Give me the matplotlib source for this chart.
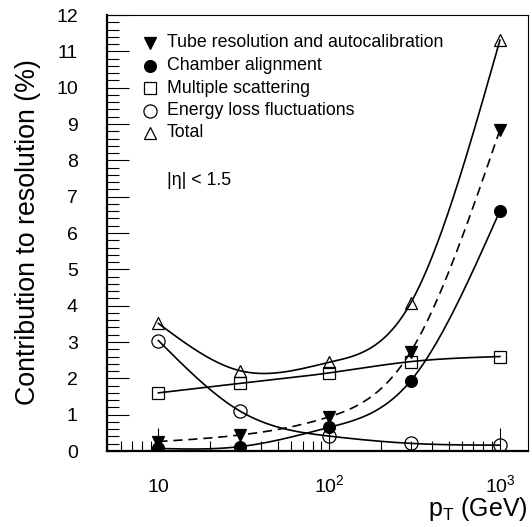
import numpy as np
import matplotlib.pyplot as plt
from matplotlib.ticker import FixedLocator, FixedFormatter, LogLocator, MultipleLocator, NullFormatter

plt.rcParams['font.family'] = ['Liberation Sans', 'DejaVu Sans']
plt.rcParams['mathtext.fontset'] = 'custom'
plt.rcParams['mathtext.rm'] = 'Liberation Sans'
plt.rcParams['mathtext.it'] = 'Liberation Sans:italic'

# values (percent contribution to pT resolution)
pt = [10, 30, 100, 300, 1000]
tube = [0.26, 0.44, 0.94, 2.73, 8.84]
chamber = [0.07, 0.12, 0.65, 1.93, 6.61]
scattering = [1.60, 1.86, 2.15, 2.46, 2.60]
eloss = [3.04, 1.10, 0.41, 0.21, 0.16]
total = [3.51, 2.21, 2.44, 4.07, 11.31]

labels = ['Tube resolution and autocalibration', 'Chamber alignment',
          'Multiple scattering', 'Energy loss fluctuations', 'Total']


def smooth(x, y, n=300):
    # natural cubic spline through the points, in log10(pT)
    u = np.log10(x)
    y = np.asarray(y, float)
    h = np.diff(u)
    m = len(u)
    A = np.zeros((m, m))
    b = np.zeros(m)
    A[0, 0] = A[-1, -1] = 1
    for i in range(1, m - 1):
        A[i, i - 1] = h[i - 1]
        A[i, i] = 2 * (h[i - 1] + h[i])
        A[i, i + 1] = h[i]
        b[i] = 3 * ((y[i + 1] - y[i]) / h[i] - (y[i] - y[i - 1]) / h[i - 1])
    c = np.linalg.solve(A, b)
    uu = np.linspace(u[0], u[-1], n)
    k = np.clip(np.searchsorted(u, uu) - 1, 0, m - 2)
    d = uu - u[k]
    bb = (y[1:] - y[:-1]) / h - h * (2 * c[:-1] + c[1:]) / 3
    dd = (c[1:] - c[:-1]) / (3 * h)
    yy = y[k] + bb[k] * d + c[k] * d ** 2 + dd[k] * d ** 3
    return 10 ** uu, yy


fig = plt.figure(figsize=(5.32, 5.27), dpi=100)
ax = fig.add_axes([107 / 532, 1 - 451 / 527, 421 / 532, 436 / 527])

series = [tube, chamber, scattering, eloss, total]
styles = ['--', '-', '-', '-', '-']
markers = [dict(marker='v', mfc='black', ms=8.5),
           dict(marker='o', mfc='black', ms=8.5),
           dict(marker='s', mfc='none', ms=9),
           dict(marker='o', mfc='none', ms=9.5),
           dict(marker='^', mfc='none', ms=9)]

for s, ls in zip(series, styles):
    xs, ys = smooth(pt, s)
    ax.plot(xs, ys, color='black', lw=1.2, ls=ls, dashes=(5.5, 3.5) if ls == '--' else (None, None))
for s, mk in zip(series, markers):
    ax.plot(pt, s, ls='none', color='black', mec='black', mew=0.9, zorder=5, **mk)

ax.set_xscale('log')
ax.set_xlim(5, 1460)
ax.set_ylim(0, 12)

ax.xaxis.set_major_locator(FixedLocator([10, 100, 1000]))
ax.xaxis.set_major_formatter(FixedFormatter(['10', '$10^{2}$', '$10^{3}$']))
ax.xaxis.set_minor_locator(LogLocator(base=10, subs=np.arange(2, 10)))
ax.xaxis.set_minor_formatter(NullFormatter())
ax.yaxis.set_major_locator(MultipleLocator(1))
ax.yaxis.set_minor_locator(MultipleLocator(0.2))

ax.tick_params(which='both', direction='in', top=False, right=False, width=0.8, labelsize=14)
ax.tick_params(axis='x', which='major', length=16.5, pad=29.5)
ax.tick_params(axis='x', which='minor', length=7.5)
ax.tick_params(axis='y', which='major', length=16, pad=21)
ax.tick_params(axis='y', which='minor', length=8.5)
for lbl in ax.get_xticklabels():
    lbl.set_verticalalignment('baseline')

for side in ['left', 'bottom']:
    ax.spines[side].set_linewidth(1.6)
for side in ['top', 'right']:
    ax.spines[side].set_linewidth(0.8)

# legend drawn by hand
rows = [0.936, 0.884, 0.832, 0.780, 0.730]
for yr, mk, lab in zip(rows, markers, labels):
    ax.plot([0.102], [yr], ls='none', color='black', mec='black', mew=0.9,
            transform=ax.transAxes, clip_on=False, **mk)
    ax.text(0.142, yr, lab, transform=ax.transAxes, fontsize=12.8, va='center')

ax.text(0.142, 0.621, '|η| < 1.5', transform=ax.transAxes, fontsize=12.8, va='center')

fig.text(28 / 532, 1 - 232 / 527, 'Contribution to resolution (%)', rotation=90,
         ha='center', va='center', fontsize=19.3)
fig.text(528 / 532, 1 - 516 / 527, 'p$_\\mathrm{T}$ (GeV)', ha='right', va='baseline', fontsize=18)

fig.savefig('out.png', dpi=100)
